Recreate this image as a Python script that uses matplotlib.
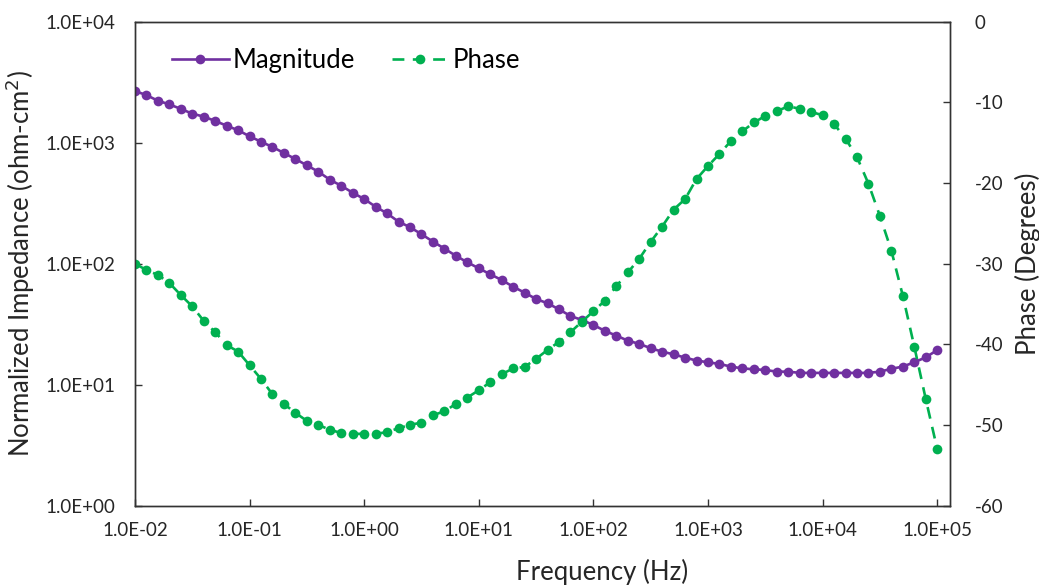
import numpy as np
import matplotlib
matplotlib.use("Agg")
import matplotlib.pyplot as plt
from matplotlib.ticker import FixedLocator, FuncFormatter, NullLocator

plt.rcParams['font.family'] = ['Lato', 'DejaVu Sans']

# Frequency sweep: 10 points per decade from 1E-2 to 1E5 Hz
freq_exponents = np.arange(71) / 10.0 - 2.0
frequency = 10.0 ** freq_exponents

magnitude = [
    2670, 2470, 2220, 2070, 1900, 1735, 1640, 1510, 1380, 1265,
    1128, 1017, 920, 820, 732, 649, 575, 494, 440, 385,
    342, 295, 260, 222, 200, 175, 152, 133, 116, 102.5,
    91.5, 81.6, 73.2, 64.4, 57.5, 51.0, 47.0, 41.9, 36.9, 34.2,
    31.1, 27.8, 25.4, 23.1, 21.7, 20.0, 18.7, 17.8, 16.7, 15.8,
    15.3, 14.8, 14.1, 13.6, 13.4, 13.2, 12.8, 12.8, 12.5, 12.5,
    12.5, 12.5, 12.5, 12.5, 12.5, 12.8, 13.5, 14.1, 15.3, 16.8,
    19.3,
]

phase = [
    -30.0, -30.8, -31.4, -32.4, -33.9, -35.3, -37.1, -38.5, -40.1, -40.9,
    -42.6, -44.3, -46.2, -47.4, -48.5, -49.5, -50.0, -50.6, -51.0, -51.1,
    -51.1, -51.1, -50.9, -50.4, -50.0, -49.7, -48.8, -48.3, -47.4, -46.6,
    -45.7, -44.7, -43.7, -43.0, -42.8, -41.8, -40.7, -39.7, -38.5, -37.2,
    -35.9, -34.6, -32.8, -31.1, -29.4, -27.3, -25.4, -23.3, -22.0, -19.5,
    -17.9, -16.4, -14.8, -13.6, -12.5, -11.7, -11.1, -10.5, -10.8, -11.2,
    -11.6, -12.7, -14.5, -16.8, -20.1, -24.1, -28.4, -34.0, -40.3, -46.8,
    -53.0,
]

x_ticks = [1e-2, 1e-1, 1e0, 1e1, 1e2, 1e3, 1e4, 1e5]
y_ticks = [1e0, 1e1, 1e2, 1e3, 1e4]
phase_ticks = [0, -10, -20, -30, -40, -50, -60]

purple = '#7030A0'
green = '#00B050'
text_color = '#262626'
axis_color = '#333333'

fig = plt.figure(figsize=(10.39, 5.86), dpi=100)
ax = fig.add_axes([0.1299, 0.1372, 0.7844, 0.8259])
ax2 = ax.twinx()

ax.set_xscale('log')
ax.set_yscale('log')
ax.set_xlim(1e-2, 10 ** 5.111)
ax.set_ylim(1, 1e4)
ax2.set_ylim(-60, 0)

ln1, = ax.plot(frequency, magnitude, color=purple, lw=1.9, marker='o',
               markersize=7.0, markeredgewidth=0, label='Magnitude')
ln2, = ax2.plot(frequency, phase, color=green, lw=1.9, ls=(0, (4.5, 3.2)),
                marker='o', markersize=7.0, markeredgewidth=0, label='Phase')

sci = FuncFormatter(lambda v, _: f"{v:.1E}")
ax.xaxis.set_major_locator(FixedLocator(x_ticks))
ax.xaxis.set_minor_locator(NullLocator())
ax.xaxis.set_major_formatter(sci)
ax.yaxis.set_major_locator(FixedLocator(y_ticks))
ax.yaxis.set_minor_locator(NullLocator())
ax.yaxis.set_major_formatter(sci)
ax2.yaxis.set_major_locator(FixedLocator(phase_ticks))
ax2.yaxis.set_major_formatter(FuncFormatter(lambda v, _: f"{v:.0f}"))

for a in (ax, ax2):
    for sp in a.spines.values():
        sp.set_color(axis_color)
        sp.set_linewidth(1.0)
    a.tick_params(direction='in', length=5, width=1, color=axis_color,
                  labelcolor=text_color, labelsize=13.5)
ax.tick_params(axis='x', pad=12)
ax.tick_params(axis='y', pad=14)
ax2.tick_params(axis='y', pad=18)

ax.set_ylabel('Normalized Impedance (ohm-cm$^2$)', fontsize=18.5,
              color=text_color, labelpad=6)
ax2.set_ylabel('Phase (Degrees)', fontsize=18.5, color=text_color, labelpad=8)
fig.text(602 / 1039, 1 - 572 / 586, 'Frequency (Hz)', fontsize=18.5,
         color=text_color, ha='center', va='center')

ax2.legend(handles=[ln1, ln2], loc='upper left', ncol=2, frameon=False,
           fontsize=18.5, handlelength=2.2, columnspacing=1.45,
           handletextpad=0.15, numpoints=1, borderaxespad=0.0,
           bbox_to_anchor=(0.033, 0.966))

fig.savefig('out.png', dpi=100)
